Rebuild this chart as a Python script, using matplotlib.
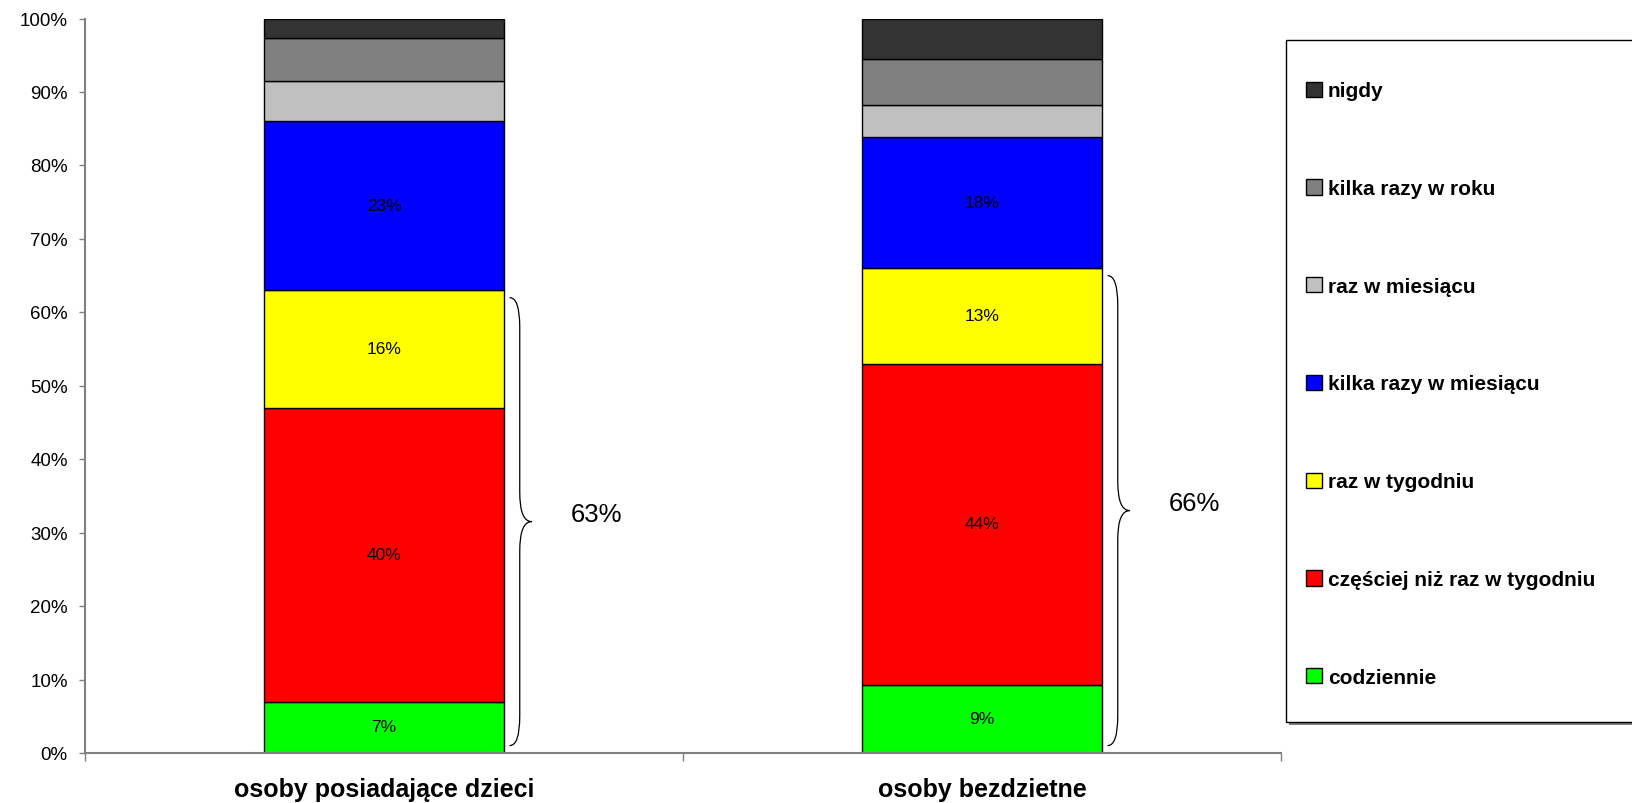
import numpy as np
import matplotlib
matplotlib.use('Agg')
from matplotlib import pyplot as plt
from matplotlib.path import Path
from matplotlib.patches import PathPatch, Rectangle

plt.rcParams['font.family'] = ['Liberation Sans', 'DejaVu Sans']

groups = ['osoby posiadające dzieci', 'osoby bezdzietne']
categories = ['codziennie', 'częściej niż raz w tygodniu', 'raz w tygodniu',
              'kilka razy w miesiącu', 'raz w miesiącu', 'kilka razy w roku', 'nigdy']
colors = ['#00FF00', '#FF0000', '#FFFF00', '#0000FF', '#C0C0C0', '#808080', '#333333']

# percent shares, columns = groups
codziennie = [7.0, 9.3]
czesciej = [40.0, 43.7]
raz_tydz = [16.0, 13.0]
kilka_mies = [23.0, 17.8]
raz_mies = [5.5, 4.4]
kilka_rok = [5.9, 6.3]
nigdy = [2.6, 5.5]

values = np.array([codziennie, czesciej, raz_tydz, kilka_mies, raz_mies, kilka_rok, nigdy])
labelled = [0, 1, 2, 3]   # segments that carry a value label
brace_n = 3               # brace spans the first three segments

W, H = 1632, 803
fig = plt.figure(figsize=(W / 100, 8.035), dpi=100)
ax = fig.add_axes([85 / W, 50 / H, 1196 / W, 734 / H])

x = np.arange(len(groups))
width = 0.4
bottom = np.zeros(len(groups))
handles = []
for i, (cat, col) in enumerate(zip(categories, colors)):
    h = ax.bar(x, values[i], width, bottom=bottom, color=col, edgecolor='black',
               linewidth=1.0, label=cat)
    handles.append(h)
    if i in labelled:
        for xi, v, b in zip(x, values[i], bottom):
            ax.text(xi, b + v / 2, f'{round(v):.0f}%', ha='center', va='center',
                    fontsize=12.5, family=['Liberation Sans Narrow', 'Liberation Sans'])
    bottom += values[i]

# curly braces with totals
for xi in x:
    top = values[:brace_n, xi].sum()
    ytop, ybot = top - 1.0, 1.0
    ymid = (ytop + ybot) / 2
    xa = xi + width / 2 + 0.01
    xb = xa + 0.017
    xc = xa + 0.037
    r = 4.0
    verts = [(xa, ytop), (xb, ytop), (xb, ytop - r),
             (xb, ymid + r),
             (xb, ymid), (xc, ymid),
             (xb, ymid), (xb, ymid - r),
             (xb, ybot + r),
             (xb, ybot), (xa, ybot)]
    codes = [Path.MOVETO, Path.CURVE3, Path.CURVE3,
             Path.LINETO,
             Path.CURVE3, Path.CURVE3,
             Path.CURVE3, Path.CURVE3,
             Path.LINETO,
             Path.CURVE3, Path.CURVE3]
    ax.add_patch(PathPatch(Path(verts, codes), facecolor='none', edgecolor='black', lw=0.9))
    tot = sum(round(v) for v in values[:brace_n, xi])
    ax.text(xi + 0.356, ymid + 1.0, f'{tot}%', ha='center', va='center', fontsize=18.5)

ax.set_xlim(-0.5, len(groups) - 0.5)
ax.set_ylim(0, 100)
ax.set_yticks(np.arange(0, 101, 10))
ax.set_yticklabels([f'{t}%' for t in range(0, 101, 10)], fontsize=13.5)
ax.tick_params(axis='y', length=4.5, width=1, color='#808080', pad=8)

ax.set_xticks(np.arange(-0.5, len(groups), 1.0))
ax.set_xticklabels([])
ax.tick_params(axis='x', which='major', length=6, width=1, color='#808080')
ax.set_xticks(x, minor=True)
ax.set_xticklabels(groups, minor=True, fontsize=18, fontweight='bold')
ax.tick_params(axis='x', which='minor', length=0, pad=18)

for s in ['top', 'right']:
    ax.spines[s].set_visible(False)
for s in ['left', 'bottom']:
    ax.spines[s].set_color('#808080')
    ax.spines[s].set_linewidth(1.5)

# legend frame, cut by the right edge of the figure like in the source
bx0, by0, by1 = 1286, 722, 40
fig.patches.append(Rectangle(((bx0 + 3) / W, (H - by0 - 3) / H), 400 / W, (by0 - by1) / H,
                             transform=fig.transFigure, facecolor='#808080',
                             edgecolor='none', zorder=1))
fig.patches.append(Rectangle((bx0 / W, (H - by0) / H), 400 / W, (by0 - by1) / H,
                             transform=fig.transFigure, facecolor='white',
                             edgecolor='black', linewidth=1.0, zorder=1.1))

leg = fig.legend(handles[::-1], categories[::-1], loc='upper left',
                 bbox_to_anchor=(1306 / W, 1 - 82 / H), prop={'size': 15, 'weight': 'bold'},
                 handlelength=0.75, handleheight=0.75, handletextpad=0.3, labelspacing=3.78,
                 borderpad=0, borderaxespad=0, frameon=False)

fig.savefig('out.png', dpi=100)
